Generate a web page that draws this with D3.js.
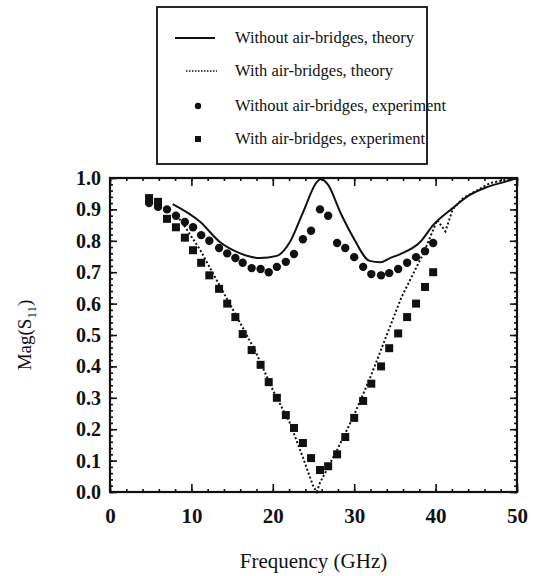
<!DOCTYPE html>
<html>
<head>
<meta charset="utf-8">
<script src="https://cdn.jsdelivr.net/npm/d3@7"></script>
<style>
  body { margin: 0; background: #fff; }
  text { font-family: "Liberation Serif", "Times New Roman", serif; fill: #111; }
</style>
</head>
<body>
<div id="chart"></div>
<script>
// theory curves (freq GHz, |S11|)
var theoryWithout = [
	[7.7, 0.917], [11.1, 0.86], [13.5, 0.796], [16.0, 0.76], [18.4, 0.745], [20.5, 0.752],
	[22.1, 0.796], [23.7, 0.89], [25.4, 0.987], [25.9, 0.997], [26.8, 0.978], [28.3, 0.89],
	[29.9, 0.81], [31.9, 0.736], [33.2, 0.732], [34.4, 0.745], [35.6, 0.757], [38.1, 0.796],
	[39.7, 0.85], [42.1, 0.904], [44.2, 0.946], [46.3, 0.971], [48.8, 0.99], [50, 1.0]
];
var theoryWith = [
	[8.5, 0.87], [9.2, 0.845], [11.1, 0.77], [13.1, 0.675], [15.6, 0.557], [17.8, 0.452],
	[20.0, 0.325], [22.1, 0.22], [23.7, 0.11], [25.0, 0.016], [25.4, 0.0], [25.8, 0.03],
	[27.9, 0.134], [29.9, 0.24], [31.9, 0.36], [34.0, 0.5], [35.8, 0.62], [38.5, 0.76],
	[40.2, 0.866], [41.2, 0.83], [42.1, 0.9], [43.4, 0.936], [46.7, 0.984], [49.1, 0.997], [50, 1.0]
];

// measured points
var freqs = [4.8, 5.9, 7.0, 8.1, 9.2, 10.2, 11.2, 12.2, 13.4, 14.4, 15.4, 16.3, 17.4, 18.5,
	19.5, 20.5, 21.6, 22.6, 23.7, 24.7, 25.8, 26.8, 27.9, 28.9, 30.0, 31.1, 32.1, 33.3,
	34.3, 35.4, 36.5, 37.6, 38.7, 39.7];
var expWithout = [0.92, 0.908, 0.90, 0.88, 0.86, 0.843, 0.818, 0.80, 0.777, 0.76, 0.745, 0.73,
	0.713, 0.71, 0.70, 0.717, 0.733, 0.758, 0.805, 0.832, 0.90, 0.88, 0.793, 0.777, 0.748,
	0.717, 0.694, 0.69, 0.697, 0.71, 0.73, 0.748, 0.767, 0.793];
var expWith = [0.936, 0.924, 0.87, 0.843, 0.81, 0.77, 0.73, 0.69, 0.647, 0.60, 0.557, 0.503,
	0.452, 0.405, 0.35, 0.30, 0.245, 0.204, 0.156, 0.108, 0.07, 0.082, 0.12, 0.175, 0.236,
	0.29, 0.345, 0.40, 0.458, 0.505, 0.557, 0.60, 0.653, 0.70];

var xTicks = [0, 10, 20, 30, 40, 50];
var yTicks = [0, 0.1, 0.2, 0.3, 0.4, 0.5, 0.6, 0.7, 0.8, 0.9, 1.0];
var legendLabels = [
	"Without air-bridges, theory",
	"With air-bridges, theory",
	"Without air-bridges, experiment",
	"With air-bridges, experiment"
];

var serif = '"Liberation Serif", "Times New Roman", serif';
var width = 535, height = 576;
var svg = d3.select("#chart").append("svg").attr("width", width).attr("height", height)
	.attr("font-family", serif);

var x = d3.scaleLinear().domain([0, 50]).range([110, 517]);
var y = d3.scaleLinear().domain([0, 1]).range([492, 178]);

// minor ticks
var xMinor = d3.range(0, 51, 2);
var yMinor = d3.range(0, 1.001, 0.02);

function tickAxis(axis, vals, size, pos) {
	var g = svg.append("g").attr("transform", pos)
		.call(axis.tickValues(vals).tickSize(size).tickFormat(""));
	g.select(".domain").remove();
	g.selectAll("line").attr("stroke", "#111").attr("stroke-width", 1.6);
	return g;
}
tickAxis(d3.axisBottom(x), xMinor, -3, "translate(0," + y(0) + ")");
tickAxis(d3.axisTop(x), xMinor, -3, "translate(0," + y(1) + ")");
tickAxis(d3.axisLeft(y), yMinor, -3, "translate(" + x(0) + ",0)");
tickAxis(d3.axisRight(y), yMinor, -3, "translate(" + x(50) + ",0)");
tickAxis(d3.axisTop(x), xTicks, -8, "translate(0," + y(1) + ")");
tickAxis(d3.axisRight(y), yTicks, -7, "translate(" + x(50) + ",0)");

var gx = svg.append("g").attr("transform", "translate(0," + y(0) + ")")
	.call(d3.axisBottom(x).tickValues(xTicks).tickSize(-8).tickPadding(16).tickFormat(d3.format("d")));
gx.attr("font-family", serif);
gx.select(".domain").remove();
gx.selectAll("line").attr("stroke", "#111").attr("stroke-width", 1.6);
gx.selectAll("text").attr("font-family", serif).style("font-size", "21px").style("font-weight", "bold")
	.attr("fill", "#111");

var gy = svg.append("g").attr("transform", "translate(" + x(0) + ",0)")
	.call(d3.axisLeft(y).tickValues(yTicks).tickSize(-7).tickPadding(9).tickFormat(d3.format(".1f")));
gy.attr("font-family", serif);
gy.select(".domain").remove();
gy.selectAll("line").attr("stroke", "#111").attr("stroke-width", 1.6);
gy.selectAll("text").attr("font-family", serif).style("font-size", "20px").style("font-weight", "bold")
	.attr("fill", "#111");

// frame
svg.append("rect")
	.attr("x", x(0)).attr("y", y(1))
	.attr("width", x(50) - x(0)).attr("height", y(0) - y(1))
	.attr("fill", "none").attr("stroke", "#111").attr("stroke-width", 2.2);

var line = d3.line().x(function(d) { return x(d[0]); }).y(function(d) { return y(d[1]); })
	.curve(d3.curveMonotoneX);

svg.append("path").datum(theoryWithout).attr("d", line)
	.attr("fill", "none").attr("stroke", "#111").attr("stroke-width", 2);

svg.append("path").datum(theoryWith).attr("d", line.curve(d3.curveLinear))
	.attr("fill", "none").attr("stroke", "#111").attr("stroke-width", 2)
	.attr("stroke-dasharray", "2,2.2");

svg.append("g").selectAll("circle").data(freqs).join("circle")
	.attr("cx", function(d) { return x(d); })
	.attr("cy", function(d, i) { return y(expWithout[i]); })
	.attr("r", 4.2).attr("fill", "#111");

svg.append("g").selectAll("rect").data(freqs).join("rect")
	.attr("x", function(d) { return x(d) - 4; })
	.attr("y", function(d, i) { return y(expWith[i]) - 4; })
	.attr("width", 8).attr("height", 8).attr("fill", "#111");

// axis titles
svg.append("text").attr("x", (x(0) + x(50)) / 2).attr("y", 568)
	.attr("text-anchor", "middle").style("font-size", "21px").text("Frequency (GHz)");

var yt = svg.append("text").attr("transform", "translate(31," + ((y(0) + y(1)) / 2) + ") rotate(-90)")
	.attr("text-anchor", "middle").style("font-size", "19px");
yt.append("tspan").text("Mag(S");
yt.append("tspan").attr("dy", 5).style("font-size", "13px").text("11");
yt.append("tspan").attr("dy", -5).text(")");

// legend
var legend = svg.append("g");
legend.append("rect").attr("x", 157).attr("y", 7).attr("width", 270).attr("height", 157)
	.attr("fill", "#fff").attr("stroke", "#111").attr("stroke-width", 1.8);
var rowY = [38, 71, 106, 139];
legend.selectAll("text.lab").data(legendLabels).join("text").attr("class", "lab")
	.attr("x", 235).attr("y", function(d, i) { return rowY[i] + 5; })
	.style("font-size", "16.5px").text(function(d) { return d; });
legend.append("line").attr("x1", 175).attr("x2", 215).attr("y1", rowY[0]).attr("y2", rowY[0])
	.attr("stroke", "#111").attr("stroke-width", 2);
legend.append("line").attr("x1", 186).attr("x2", 217).attr("y1", rowY[1]).attr("y2", rowY[1])
	.attr("stroke", "#111").attr("stroke-width", 1.5).attr("stroke-dasharray", "1.5,1.5");
legend.append("circle").attr("cx", 198).attr("cy", rowY[2]).attr("r", 3.2).attr("fill", "#111");
legend.append("rect").attr("x", 195).attr("y", rowY[3] - 3).attr("width", 6).attr("height", 6).attr("fill", "#111");
</script>
</body>
</html>
